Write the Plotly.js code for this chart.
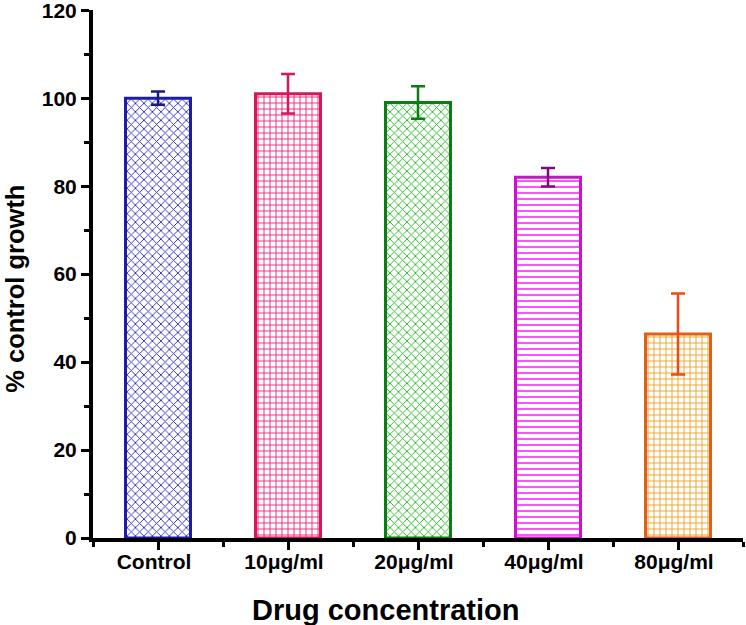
<!DOCTYPE html>
<html>
<head>
<meta charset="utf-8">
<script src="https://cdn.plot.ly/plotly-3.0.1.min.js"></script>
<style>html,body{margin:0;padding:0;background:#fff;}#chart{width:746px;height:625px;}</style>
</head>
<body>
<div id="chart"></div>
<script>
const categories = ["Control", "10μg/ml", "20μg/ml", "40μg/ml", "80μg/ml"];
const growthValues = [100, 101, 99, 82, 46.4];
const errorValues = [1.5, 4.5, 3.7, 2.1, 9.2];
const yTickVals = [0, 20, 40, 60, 80, 100, 120];

const outlineColors = ["#1c1ca8", "#d6175a", "#0b7d12", "#cc10cc", "#e0601a"];
const patternColors = ["#2a2ab8", "#f0207a", "#22b822", "#ff30ff", "#f0a020"];
const errorColors = ["#1a1a80", "#d6175a", "#0b7d12", "#800a80", "#f04a10"];
const patternShapes = ["x", "+", "x", "-", "+"];

const traces = categories.map((c, i) => ({
  type: "bar",
  x: [i],
  y: [growthValues[i]],
  width: 0.5,
  marker: {
    color: "white",
    line: {color: outlineColors[i], width: 3},
    pattern: {shape: patternShapes[i], fgcolor: patternColors[i], bgcolor: "white", size: 6, solidity: 0.28, fillmode: "replace"}
  },
  error_y: {type: "data", array: [errorValues[i]], visible: true, color: errorColors[i], thickness: 2.5, width: 7},
  showlegend: false,
  hoverinfo: "skip"
}));

const F = "Liberation Sans, Arial, sans-serif";
const layout = {
  width: 746, height: 625,
  margin: {l: 93, r: 3, t: 10, b: 87},
  paper_bgcolor: "white", plot_bgcolor: "white",
  font: {family: F, color: "#000"},
  xaxis: {
    range: [-0.5, 4.5],
    tickvals: categories.map((c, i) => i),
    ticktext: categories,
    ticks: "outside", ticklen: 8, tickwidth: 3, tickcolor: "#000",
    ticklabelstandoff: -6, ticklabelshift: -4,
    minor: {dtick: 1, tick0: 0.5, ticks: "outside", ticklen: 5, tickwidth: 3, tickcolor: "#000", showgrid: false},
    showline: true, linecolor: "#000", linewidth: 4,
    showgrid: false, zeroline: false,
    tickfont: {size: 21, family: F, weight: "bold"}
  },
  yaxis: {
    range: [0, 120.05],
    tickvals: yTickVals,
    ticklabeloverflow: "allow",
    ticks: "outside", ticklen: 8, tickwidth: 3, tickcolor: "#000",
    minor: {dtick: 10, tick0: 10, ticks: "outside", ticklen: 5, tickwidth: 3, tickcolor: "#000", showgrid: false},
    showline: true, linecolor: "#000", linewidth: 4,
    showgrid: false, zeroline: false,
    tickfont: {size: 21, family: F, weight: "bold"}
  },
  annotations: [
    {text: "<b>Drug concentration</b>", xref: "paper", yref: "paper", x: 0.45, y: -0.136,
     xanchor: "center", yanchor: "middle", showarrow: false, font: {size: 29, family: F, color: "#000"}},
    {text: "<b>% control growth</b>", xref: "paper", yref: "paper", x: -0.12, y: 0.472, textangle: -90,
     xanchor: "center", yanchor: "middle", showarrow: false, font: {size: 25.5, family: F, color: "#000"}}
  ]
};

Plotly.newPlot("chart", traces, layout, {displayModeBar: false, staticPlot: true});
</script>
</body>
</html>
